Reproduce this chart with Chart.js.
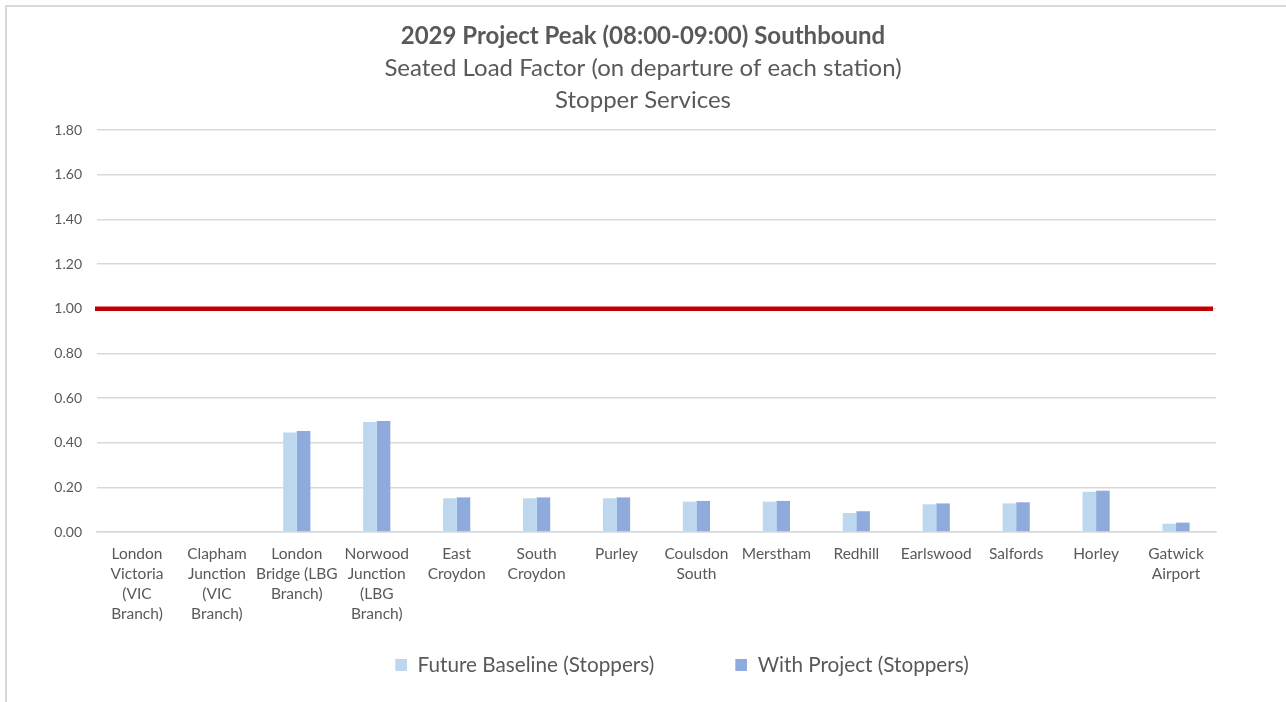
<!DOCTYPE html>
<html>
<head>
<meta charset="utf-8">
<script src="https://cdn.jsdelivr.net/npm/chart.js@4"></script>
<style>
  html, body { margin: 0; padding: 0; background: #fff; overflow: hidden; }
  #frame { position: absolute; left: 5px; top: 5px; width: 1300px; height: 720px; border-left: 2px solid #d9d9d9; border-top: 2px solid #d9d9d9; }
  #wrap { position: absolute; left: 0; top: 0; width: 1286px; height: 702px; }
</style>
</head>
<body>
<div id="frame"></div>
<div id="wrap"><canvas id="loadChart"></canvas></div>
<script>
const stations = [
    ["London", "Victoria", "(VIC", "Branch)"],
    ["Clapham", "Junction", "(VIC", "Branch)"],
    ["London", "Bridge (LBG", "Branch)"],
    ["Norwood", "Junction", "(LBG", "Branch)"],
    ["East", "Croydon"],
    ["South", "Croydon"],
    "Purley",
    ["Coulsdon", "South"],
    "Merstham",
    "Redhill",
    "Earlswood",
    "Salfords",
    "Horley",
    ["Gatwick", "Airport"]
];
const futureBaseline = [0, 0, 0.445, 0.492, 0.151, 0.151, 0.151, 0.136, 0.136, 0.085, 0.124, 0.128, 0.180, 0.037];
const withProject    = [0, 0, 0.452, 0.497, 0.155, 0.155, 0.155, 0.139, 0.139, 0.093, 0.128, 0.133, 0.185, 0.042];
const seatedCapacity = 1.0; // red threshold line
const yMin = 0, yMax = 1.8, yStep = 0.2;

Chart.defaults.font.family = 'Lato, "Open Sans", sans-serif';
Chart.defaults.color = '#595959';

// legend swatch: blank lead-in then a 12px square, so items sit apart like the original
function legendSwatch(color, lead) {
    const c = document.createElement('canvas');
    c.width = lead + 12; c.height = 12;
    const g = c.getContext('2d');
    g.fillStyle = color;
    g.fillRect(lead, 0, 12, 12);
    return c;
}
const swatchLead = 51;

// red 1.00 line across the plot
const thresholdLine = {
    id: 'thresholdLine',
    afterDatasetsDraw(chart) {
        const { ctx, chartArea, scales } = chart;
        const y = scales.y.getPixelForValue(seatedCapacity);
        ctx.save();
        ctx.strokeStyle = '#c00000';
        ctx.lineWidth = 4.5;
        ctx.beginPath();
        ctx.moveTo(chartArea.left - 2, y);
        ctx.lineTo(chartArea.right - 3, y);
        ctx.stroke();
        ctx.restore();
    }
};

const ctx = document.getElementById('loadChart').getContext('2d');
const loadChart = new Chart(ctx, {
    type: 'bar',
    data: {
        labels: stations,
        datasets: [
            { label: 'Future Baseline (Stoppers)', data: futureBaseline, backgroundColor: '#bdd7ee' },
            { label: 'With Project (Stoppers)', data: withProject, backgroundColor: '#8faadc' }
        ]
    },
    plugins: [thresholdLine],
    options: {
        responsive: true, maintainAspectRatio: false, animation: false,
        categoryPercentage: 0.34, barPercentage: 1,
        layout: { padding: { left: 0, right: 0, top: 0, bottom: 16.65 } },
        plugins: {
            title: { display: true, text: '2029 Project Peak (08:00-09:00) Southbound', color: '#595959',
                     font: { size: 24, weight: 'bold', lineHeight: 1.2 }, padding: { top: 21.6, bottom: 0 } },
            subtitle: { display: true, text: ['Seated Load Factor (on departure of each station)', 'Stopper Services'], color: '#595959',
                        font: { size: 24, lineHeight: 32 / 24 }, padding: { top: 1.6, bottom: 14 } },
            legend: {
                position: 'bottom', fullSize: false,
                labels: {
                    usePointStyle: true, pointStyleWidth: swatchLead + 12, boxHeight: 12, padding: 30,
                    font: { size: 20.7 }, color: '#595959',
                    generateLabels: chart => chart.data.datasets.map((ds, i) => ({
                        text: ds.label, datasetIndex: i, fillStyle: ds.backgroundColor, strokeStyle: ds.backgroundColor,
                        lineWidth: 0, fontColor: '#595959', pointStyle: legendSwatch(ds.backgroundColor, swatchLead)
                    }))
                }
            },
            tooltip: { enabled: false }
        },
        scales: {
            x: {
                grid: { display: false, drawTicks: false },
                border: { color: '#d9d9d9', width: 1.5 },
                ticks: { font: { size: 15.5, lineHeight: 20 / 15.5 }, maxRotation: 0, autoSkip: false, padding: 12 },
                afterFit: s => { s.height = 92.65; }
            },
            y: {
                min: yMin, max: yMax,
                ticks: { stepSize: yStep, callback: v => v.toFixed(2), padding: 15, font: { size: 14 } },
                grid: { color: '#d9d9d9', lineWidth: 1.5, drawTicks: false },
                border: { display: false },
                afterFit: s => { s.width = 97; }
            },
            yPad: {
                type: 'linear', position: 'right',
                grid: { display: false, drawTicks: false }, border: { display: false }, ticks: { display: false },
                afterFit: s => { s.width = 70; }
            }
        }
    }
});
</script>
</body>
</html>
